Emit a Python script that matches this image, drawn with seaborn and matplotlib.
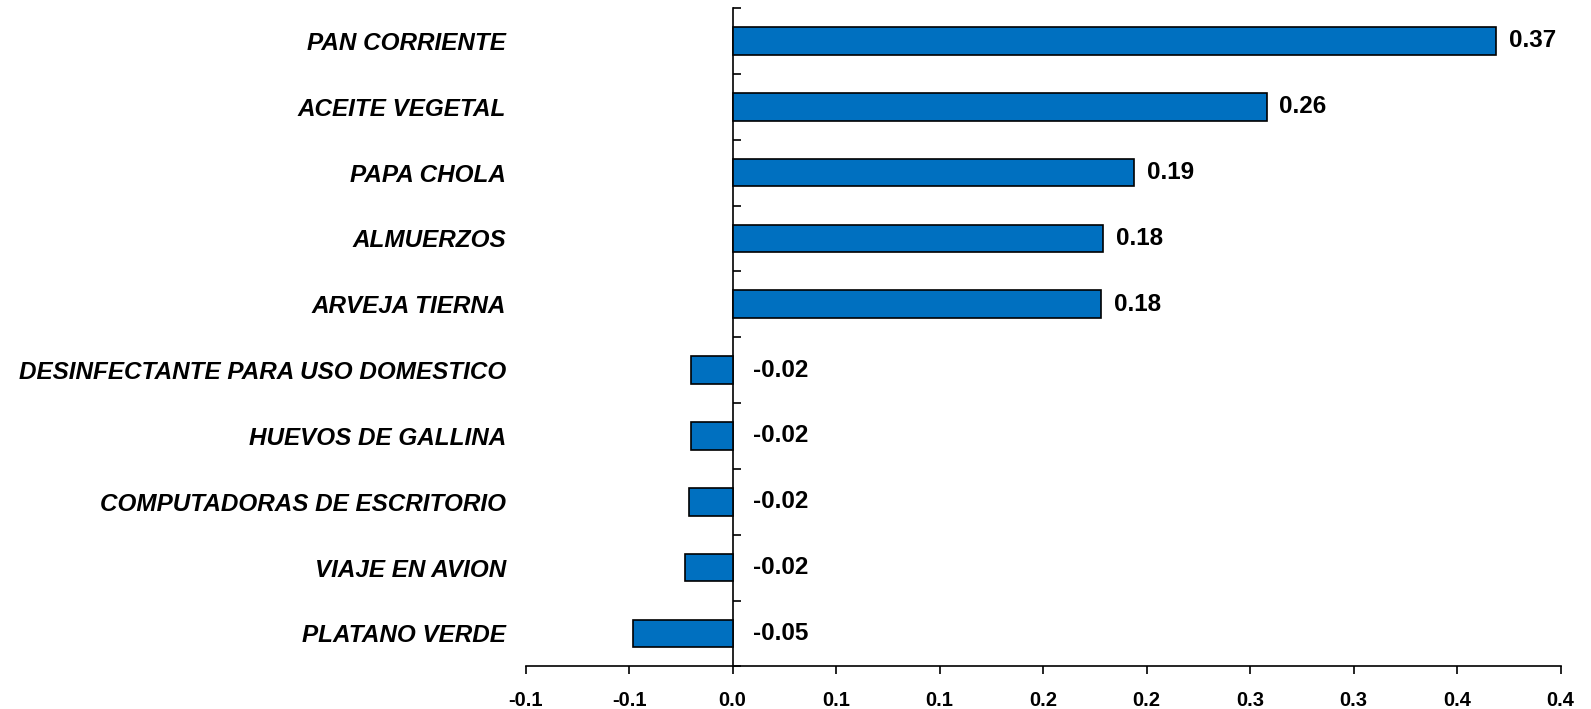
import matplotlib
matplotlib.use("Agg")
import matplotlib.pyplot as plt
import seaborn as sns
import pandas as pd

# --- data ---
categories = [
    "PAN CORRIENTE",
    "ACEITE VEGETAL",
    "PAPA CHOLA",
    "ALMUERZOS",
    "ARVEJA TIERNA",
    "DESINFECTANTE PARA USO DOMESTICO",
    "HUEVOS DE GALLINA",
    "COMPUTADORAS DE ESCRITORIO",
    "VIAJE EN AVION",
    "PLATANO VERDE",
]
values = [0.369, 0.258, 0.194, 0.179, 0.178, -0.020, -0.020, -0.021, -0.023, -0.048]
value_labels = ["0.37", "0.26", "0.19", "0.18", "0.18", "-0.02", "-0.02", "-0.02", "-0.02", "-0.05"]
x_ticks = [-0.1, -0.05, 0.0, 0.05, 0.1, 0.15, 0.2, 0.25, 0.3, 0.35, 0.4]
x_tick_labels = ["-0.1", "-0.1", "0.0", "0.1", "0.1", "0.2", "0.2", "0.3", "0.3", "0.4", "0.4"]

df = pd.DataFrame({"Producto": categories, "Valor": values})

sns.set_theme(style="white")
plt.rcParams["font.family"] = ["Liberation Sans", "DejaVu Sans"]
plt.rcParams["text.color"] = "black"
plt.rcParams["xtick.color"] = "black"
plt.rcParams["ytick.color"] = "black"

fig = plt.figure(figsize=(15.91, 7.09), dpi=100)
ax = fig.add_axes([0.3304, 0.0601, 0.6505, 0.9285])

sns.barplot(data=df, x="Valor", y="Producto", orient="h", color="#0070C0",
            saturation=1, width=0.42, edgecolor="black", linewidth=1.2, ax=ax)

ax.set_xlim(-0.1, 0.4)
ax.set_ylim(9.5, -0.5)
ax.set_xlabel("")
ax.set_ylabel("")

# x axis
ax.set_xticks(x_ticks)
ax.set_xticklabels(x_tick_labels, fontsize=14.5, fontweight="bold")
ax.tick_params(axis="x", direction="out", length=6, width=1.2, color="black", pad=12, bottom=True)

# y labels on the left, no tick marks
ax.tick_params(axis="y", length=0, pad=14)
for lbl in ax.get_yticklabels():
    lbl.set_fontsize(17.5)
    lbl.set_fontweight("bold")
    lbl.set_fontstyle("italic")

for side in ["top", "right", "left"]:
    ax.spines[side].set_visible(False)
ax.spines["bottom"].set_color("black")
ax.spines["bottom"].set_linewidth(1.2)

# zero axis with tick marks at category boundaries
sec = ax.secondary_yaxis(0.2)
sec.set_yticks([i - 0.5 for i in range(len(categories) + 1)])
sec.set_yticklabels([])
sec.tick_params(direction="in", length=6, width=1.2, color="black")
sec.spines["left"].set_color("black")
sec.spines["left"].set_linewidth(1.2)

# value labels
for i, (v, lab) in enumerate(zip(values, value_labels)):
    if v >= 0:
        ax.annotate(lab, xy=(v, i), xytext=(9, 0), textcoords="offset points",
                    ha="left", va="center", fontsize=17.5, fontweight="bold")
    else:
        ax.annotate(lab, xy=(0, i), xytext=(15, 0), textcoords="offset points",
                    ha="left", va="center", fontsize=17.5, fontweight="bold")

fig.savefig("out.png", dpi=100)
